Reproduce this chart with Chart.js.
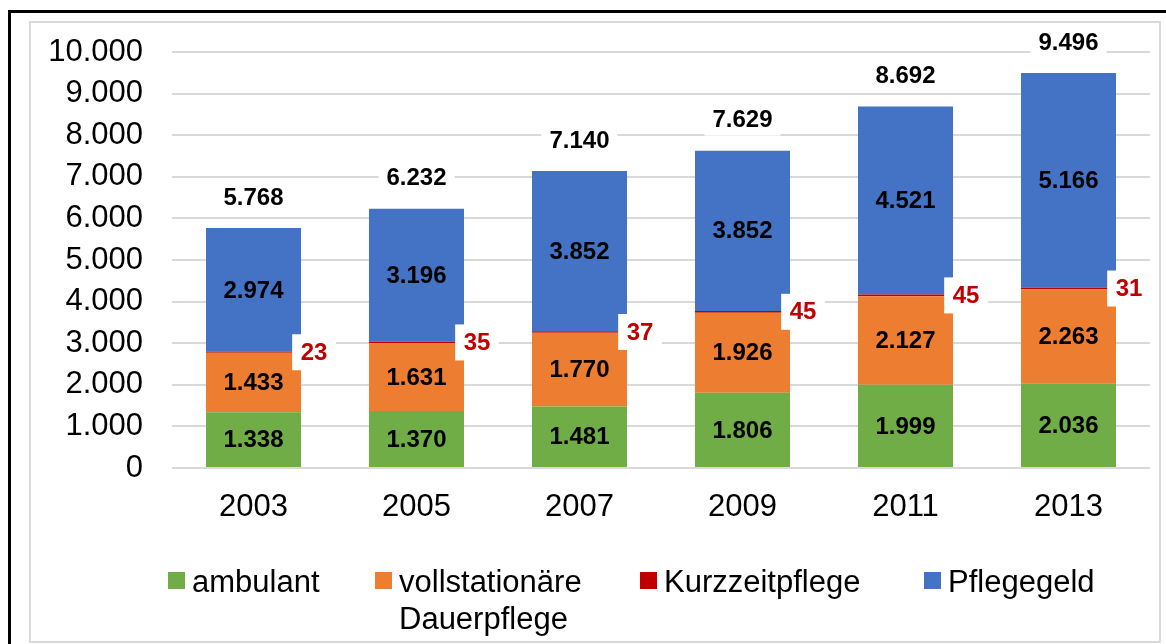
<!DOCTYPE html>
<html>
<head>
<meta charset="utf-8">
<script src="https://cdn.jsdelivr.net/npm/chart.js@4.4.0/dist/chart.umd.min.js"></script>
<style>
    html, body { margin: 0; padding: 0; background: #fff; }
    #wrap { position: relative; width: 1166px; height: 644px; overflow: hidden; }
    #outer { position: absolute; left: 8px; top: 10px; width: 1200px; height: 700px; border-left: 3px solid #000; border-top: 3px solid #000; }
    #inner { position: absolute; left: 29px; top: 21px; width: 1128px; height: 618px; border: 2px solid #d9d9d9; }
    #chart { position: absolute; left: 0; top: 0; }
</style>
</head>
<body>
<div id="wrap">
    <div id="outer"></div>
    <div id="inner"></div>
    <canvas id="chart" width="1166" height="644"></canvas>
</div>
<script>
    // data
    const years = ['2003', '2005', '2007', '2009', '2011', '2013'];
    const ambulant = [1338, 1370, 1481, 1806, 1999, 2036];
    const vollstationaer = [1433, 1631, 1770, 1926, 2127, 2263];
    const kurzzeitpflege = [23, 35, 37, 45, 45, 31];
    const pflegegeld = [2974, 3196, 3852, 3852, 4521, 5166];
    const yMax = 10000;
    const yStep = 1000;

    const FONT = '"Liberation Sans", Arial, sans-serif';

    function formatNumber(v) {
        return String(v).replace(/\B(?=(\d{3})+(?!\d))/g, '.');
    }

    // labels in the segments, the red Kurzzeitpflege tags and the totals
    const valueLabels = {
        id: 'valueLabels',
        afterDatasetsDraw(chart) {
            const ctx = chart.ctx;
            ctx.save();
            ctx.font = 'bold 24px ' + FONT;
            ctx.textBaseline = 'middle';
            ctx.textAlign = 'center';

            chart.data.datasets.forEach((ds, di) => {
                const meta = chart.getDatasetMeta(di);
                meta.data.forEach((bar, i) => {
                    const mid = (bar.y + bar.base) / 2;
                    const text = formatNumber(ds.data[i]);
                    if (di === 2) {
                        const x = bar.x + bar.width / 2 + 13;
                        const w = ctx.measureText(text).width + 17;
                        ctx.fillStyle = '#fff';
                        ctx.fillRect(x - w / 2, mid - 18, w, 36);
                        ctx.fillStyle = '#c00000';
                        ctx.fillText(text, x, mid + 1);
                    } else {
                        ctx.fillStyle = '#000';
                        ctx.fillText(text, bar.x, mid + 1);
                    }
                });
            });

            // totals above each bar
            const topMeta = chart.getDatasetMeta(chart.data.datasets.length - 1);
            topMeta.data.forEach((bar, i) => {
                const total = ambulant[i] + vollstationaer[i] + kurzzeitpflege[i] + pflegegeld[i];
                const text = formatNumber(total);
                const y = bar.y - 31;
                const w = ctx.measureText(text).width + 16;
                ctx.fillStyle = '#fff';
                ctx.fillRect(bar.x - w / 2, y - 16, w, 32);
                ctx.fillStyle = '#000';
                ctx.fillText(text, bar.x, y + 1);
            });
            ctx.restore();
        }
    };

    // Excel style legend at the bottom, with a two-line entry
    const legendXs = [168, 375, 640, 924];
    const bottomLegend = {
        id: 'bottomLegend',
        afterDraw(chart) {
            const ctx = chart.ctx;
            ctx.save();
            ctx.font = '31px ' + FONT;
            ctx.textBaseline = 'alphabetic';
            ctx.textAlign = 'left';
            chart.data.datasets.forEach((ds, di) => {
                const x = legendXs[di];
                ctx.fillStyle = ds.backgroundColor;
                ctx.fillRect(x, 572, 17, 17);
                ctx.fillStyle = '#000';
                const lines = Array.isArray(ds.label) ? ds.label : [ds.label];
                lines.forEach((line, li) => {
                    ctx.fillText(line, x + 24, 592 + li * 37);
                });
            });
            ctx.restore();
        }
    };

    const ctx = document.getElementById('chart').getContext('2d');
    new Chart(ctx, {
        type: 'bar',
        data: {
            labels: years,
            datasets: [
                { label: 'ambulant', data: ambulant, backgroundColor: '#70ad47' },
                { label: ['vollstationäre', 'Dauerpflege'], data: vollstationaer, backgroundColor: '#ed7d31' },
                { label: 'Kurzzeitpflege', data: kurzzeitpflege, backgroundColor: '#c00000' },
                { label: 'Pflegegeld', data: pflegegeld, backgroundColor: '#4472c4' }
            ]
        },
        options: {
            responsive: false,
            animation: false,
            layout: { padding: { top: 52, right: 16, left: 0, bottom: 0 } },
            datasets: {
                bar: { categoryPercentage: 1, barPercentage: 0.583, borderWidth: 0 }
            },
            plugins: {
                legend: { display: false },
                tooltip: { enabled: false }
            },
            scales: {
                x: {
                    stacked: true,
                    grid: { display: false },
                    border: { display: false },
                    ticks: { color: '#000', font: { family: FONT, size: 31 }, padding: 13 },
                    afterFit(scale) { scale.height = 176; }
                },
                y: {
                    stacked: true,
                    min: 0,
                    max: yMax,
                    grid: { color: '#d9d9d9', lineWidth: 2, drawTicks: false },
                    border: { display: false },
                    ticks: {
                        stepSize: yStep,
                        color: '#000',
                        font: { family: FONT, size: 31 },
                        padding: 29,
                        callback: (v) => formatNumber(v)
                    },
                    afterFit(scale) { scale.width = 172; }
                }
            }
        },
        plugins: [valueLabels, bottomLegend]
    });
</script>
</body>
</html>
